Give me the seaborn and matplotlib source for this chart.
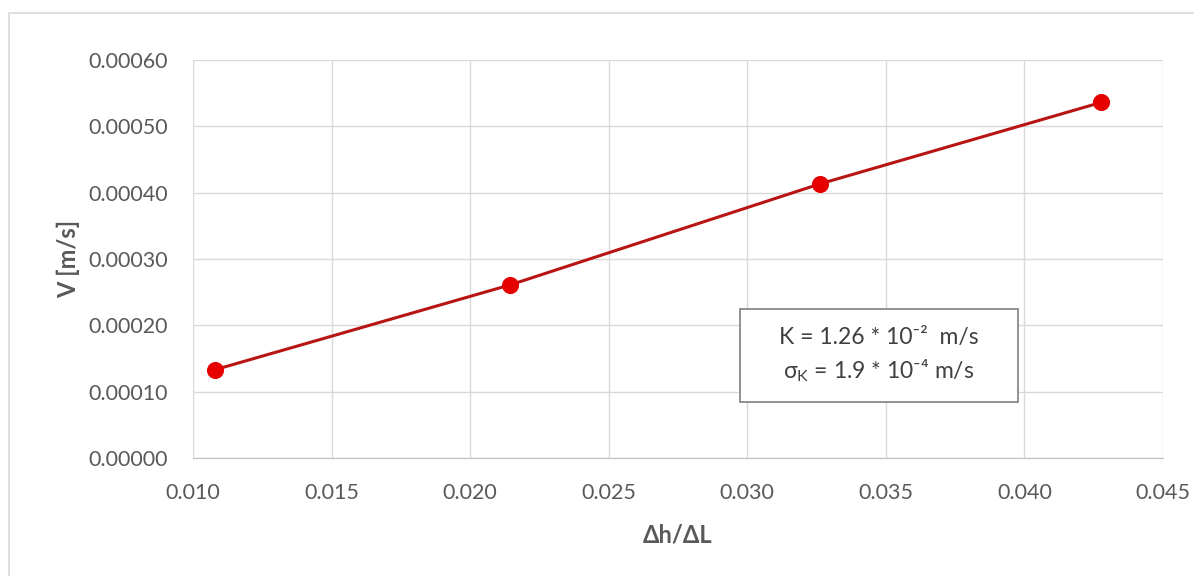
import matplotlib
matplotlib.use("Agg")
import matplotlib.pyplot as plt
from matplotlib.patches import Rectangle
import seaborn as sns
import pandas as pd

# data
gradient = [0.01079, 0.02145, 0.03261, 0.04277]   # dh/dL
velocity = [0.000133, 0.000261, 0.000413, 0.000536]  # V [m/s]
x_ticks = [0.010, 0.015, 0.020, 0.025, 0.030, 0.035, 0.040, 0.045]
y_ticks = [0.0000, 0.0001, 0.0002, 0.0003, 0.0004, 0.0005, 0.0006]
box_lines = ["K = 1.26 * 10⁻²  m/s", "σ$_\\mathrm{K}$ = 1.9 * 10⁻⁴ m/s"]

sns.set_style("white")
plt.rcParams['font.family'] = ['Lato', 'DejaVu Sans']
plt.rcParams['mathtext.fontset'] = 'custom'
plt.rcParams['mathtext.rm'] = 'Lato'
plt.rcParams['mathtext.it'] = 'Lato'
plt.rcParams['mathtext.bf'] = 'Lato:bold'

grey = "#595959"
df = pd.DataFrame({"x": gradient, "v": velocity})

fig = plt.figure(figsize=(11.94, 5.76), dpi=100)
ax = fig.add_axes([0.1616, 0.2049, 0.8124, 0.691])

sns.lineplot(data=df, x="x", y="v", ax=ax, color="#B81414", linewidth=2.2,
             marker="o", markersize=11.5, markerfacecolor="#E60000",
             markeredgecolor="#E60000", zorder=3)

ax.set_xlim(0.010, 0.045)
ax.set_ylim(0.0, 0.0006)
ax.set_xticks(x_ticks)
ax.set_yticks(y_ticks)
ax.set_xticklabels([f"{t:.3f}" for t in x_ticks])
ax.set_yticklabels([f"{t:.5f}" for t in y_ticks])
ax.tick_params(axis="both", length=0, labelsize=15.5, labelcolor=grey)
ax.tick_params(axis="y", pad=18)
ax.tick_params(axis="x", pad=18)
ax.grid(True, color="#D9D9D9", linewidth=1)
for s in ax.spines.values():
    s.set_visible(False)
ax.spines["bottom"].set_visible(True)
ax.spines["bottom"].set_color("#BFBFBF")

ax.set_xlabel("Δh/ΔL", fontsize=17, fontweight="bold", color=grey, labelpad=15)
ax.set_ylabel("V [m/s]", fontsize=17, fontweight="bold", color=grey, labelpad=6)

# text box with the fit result
ax.add_patch(Rectangle((0.564, 0.1407), 0.2865, 0.2337, transform=ax.transAxes,
                       facecolor="white", edgecolor="#7F7F7F", linewidth=1.2, zorder=4))
ax.text(0.7073, 0.2575, "\n".join(box_lines), transform=ax.transAxes,
        ha="center", va="center", fontsize=16.5, color="#404040",
        linespacing=1.45, zorder=5)

fig.patches.append(Rectangle((0.0075, -0.1), 1.1, 1.0774, transform=fig.transFigure,
                             fill=False, edgecolor="#D9D9D9", linewidth=1.2))

fig.savefig("out.png", dpi=100)
